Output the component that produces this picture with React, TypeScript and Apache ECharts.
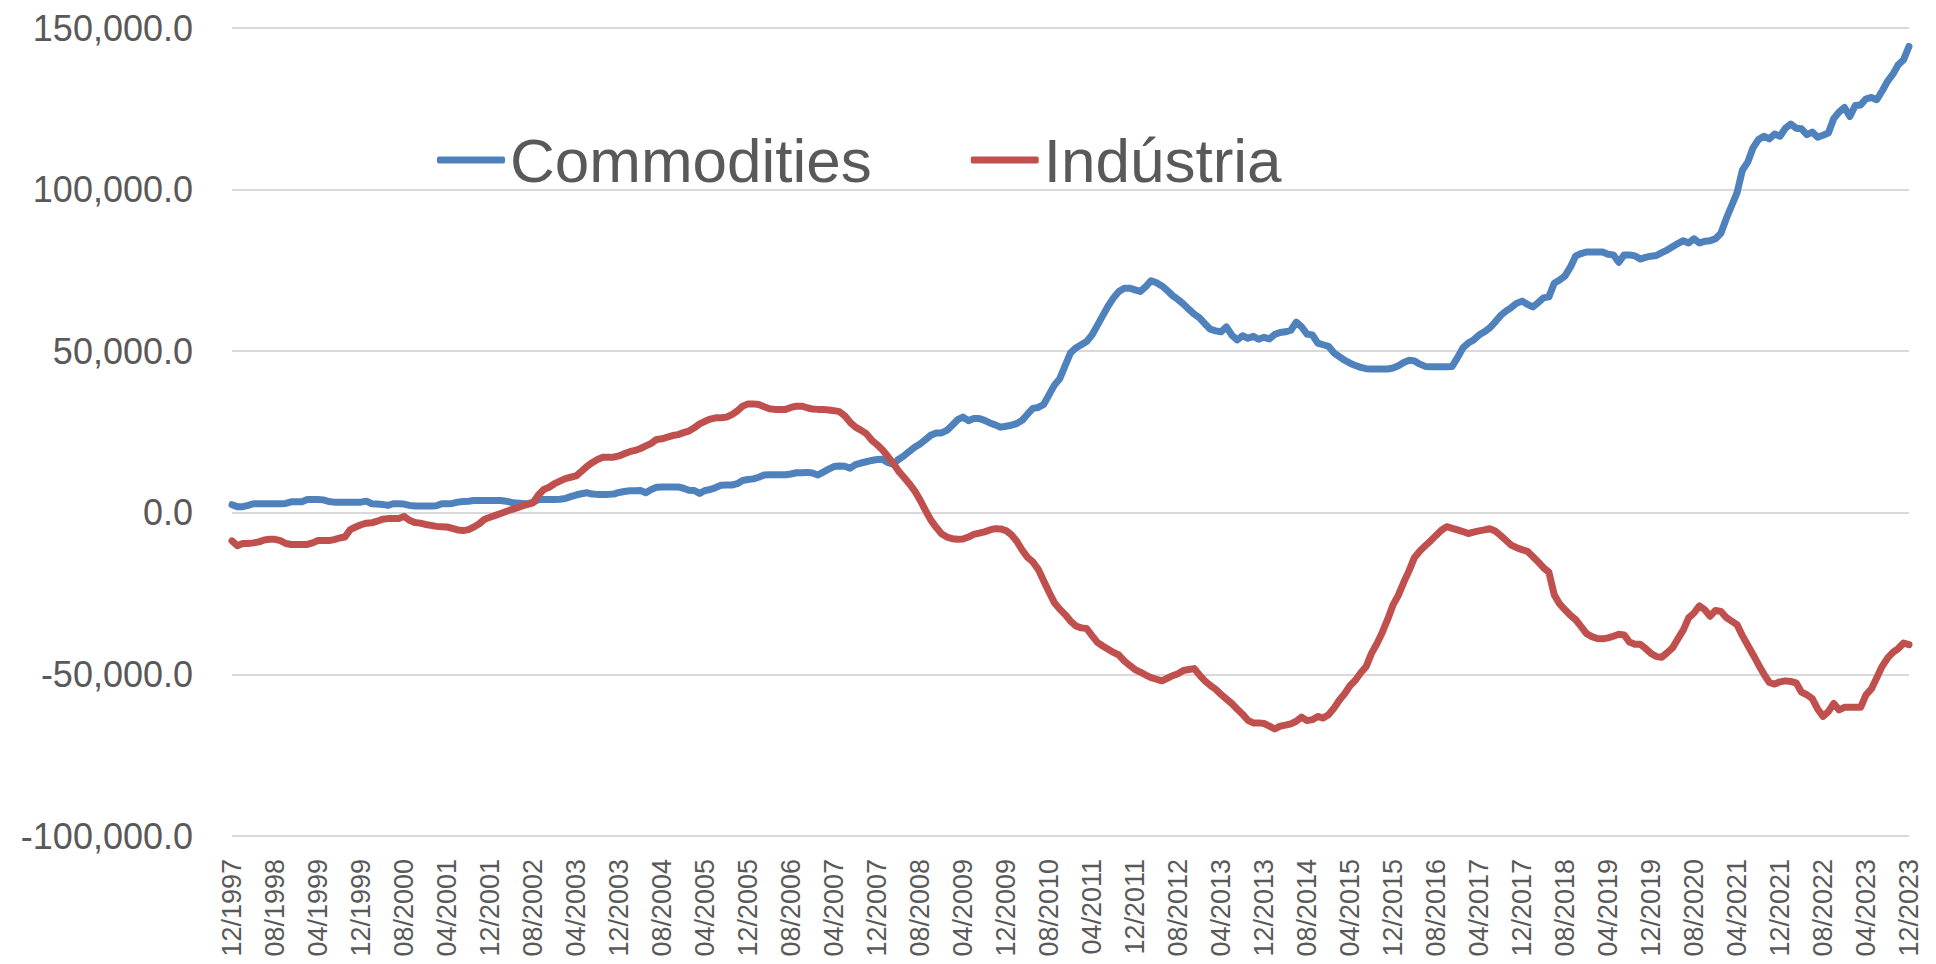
import React, { useEffect, useRef } from "react";
import * as echarts from "echarts";

// Monthly categories 12/1997 .. 12/2023
const categories: string[] = [];
for (let y = 1997, m = 12; y < 2024 || (y === 2024 && m < 1); ) {
  categories.push(String(m).padStart(2, "0") + "/" + y);
  if (y === 2023 && m === 12) break;
  m++;
  if (m > 12) { m = 1; y++; }
}

const seriesNames = ["Commodities", "Indústria"];

const commodities: number[] = [
  2500, 1900, 1900, 2300, 2800, 2800, 2800, 2800, 2800, 2800,
  2900, 3400, 3400, 3400, 4100, 4100, 4100, 4000, 3500, 3300,
  3300, 3300, 3300, 3300, 3300, 3600, 2800, 2700, 2600, 2300,
  2800, 2800, 2700, 2300, 2100, 2100, 2100, 2100, 2200, 2800,
  2800, 2900, 3300, 3500, 3600, 3800, 3800, 3800, 3800, 3800,
  3800, 3600, 3200, 3000, 2900, 2800, 3200, 4100, 4100, 4100,
  4100, 4200, 4400, 5000, 5500, 5900, 6200, 5800, 5700, 5700,
  5700, 5800, 6300, 6600, 6800, 6800, 6900, 6200, 7200, 7900,
  8000, 8000, 8000, 8000, 7600, 7000, 6900, 6000, 6900, 7200,
  7800, 8500, 8600, 8600, 9000, 10000, 10300, 10500, 11000, 11700,
  11800, 11800, 11800, 11800, 12000, 12400, 12400, 12500, 12300, 11700,
  12600, 13500, 14300, 14500, 14400, 13800, 14900, 15400, 15800, 16200,
  16500, 16600, 15600, 15000, 16500, 17600, 19000, 20300, 21300, 22600,
  24000, 24700, 24700, 25500, 27100, 28800, 29600, 28500, 29200, 29200,
  28600, 27800, 27200, 26500, 26800, 27100, 27600, 28600, 30500, 32300,
  32600, 33500, 36500, 39500, 41500, 45500, 49500, 51000, 52000, 53000,
  55000, 58000, 61000, 64000, 66500, 68500, 69500, 69500, 69000, 68500,
  70000, 71800, 71200, 70200, 68800, 67200, 66000, 64600, 63000, 61500,
  60300, 58500, 56800, 56300, 56000, 57500, 55000, 53500, 54800, 54000,
  54600, 53700, 54300, 53800, 55200, 55800, 56000, 56500, 59000, 57500,
  55300, 55000, 52500, 52000, 51500, 49500, 48300, 47200, 46300, 45600,
  45000, 44600, 44500, 44500, 44500, 44500, 44800, 45500, 46500, 47200,
  47000, 46000, 45300, 45200, 45200, 45200, 45200, 45300, 48000, 51000,
  52500, 53500, 55000, 56000, 57200, 59000, 61000, 62400, 63500, 64800,
  65500, 64500, 63700, 65000, 66500, 66800, 71000, 72000, 73300, 76000,
  79500, 80200, 80700, 80700, 80700, 80700, 80000, 79800, 77500, 79800,
  79800, 79500, 78500, 79000, 79400, 79600, 80500, 81300, 82300, 83300,
  84200, 83500, 84800, 83500, 84000, 84200, 84800, 86500, 91000, 95000,
  99000, 106000, 108500, 113000, 115500, 116500, 115700, 117200, 116500, 119000,
  120300, 119000, 118800, 117000, 117800, 116200, 116800, 117500, 122000, 124000,
  125400, 122600, 126000, 126200, 128100, 128500, 127800, 130500, 133500, 135700,
  138600, 140200, 144300,
];

const industria: number[] = [
  -8700, -10200, -9500, -9500, -9300, -9000, -8400, -8200, -8200, -8600,
  -9500, -9800, -9800, -9800, -9800, -9300, -8600, -8600, -8600, -8300,
  -7800, -7500, -5200, -4400, -3700, -3200, -3100, -2600, -2000, -1800,
  -1800, -1800, -1100, -2300, -3000, -3200, -3600, -3900, -4200, -4300,
  -4400, -4800, -5300, -5500, -5200, -4400, -3400, -2000, -1400, -800,
  -200, 400, 1000, 1500, 2100, 2600, 3100, 5500, 7200, 7900,
  9000, 9800, 10600, 11000, 11400, 12800, 14300, 15500, 16500, 17200,
  17200, 17200, 17600, 18300, 18900, 19300, 19900, 20700, 21500, 22700,
  22900, 23400, 23900, 24200, 24800, 25300, 26300, 27500, 28300, 29000,
  29400, 29400, 29600, 30400, 31500, 33000, 33700, 33700, 33500, 32800,
  32200, 32000, 32000, 32000, 32600, 33000, 33000, 32500, 32100, 32000,
  32000, 31800, 31600, 31300, 30000, 28000, 26500, 25600, 24500, 22500,
  21100, 19500, 17500, 15300, 12900, 11000, 9000, 6800, 4000, 800,
  -2200, -4500, -6500, -7500, -8000, -8200, -8100, -7500, -6700, -6300,
  -5900, -5300, -4900, -5000, -5500, -6800, -8800, -11500, -13800, -15200,
  -17500, -21000, -24500, -27800, -29800, -31500, -33500, -35000, -35600, -35800,
  -38000, -40100, -41200, -42200, -43200, -44000, -45800, -47200, -48500, -49300,
  -50200, -51000, -51500, -52000, -51200, -50400, -49800, -48800, -48500, -48200,
  -50200, -52000, -53400, -54600, -56200, -57600, -59000, -60700, -62300, -64200,
  -65000, -65000, -65200, -66000, -66900, -66000, -65700, -65300, -64500, -63200,
  -64300, -64000, -63000, -63500, -62500, -60500, -58000, -56000, -53500, -51800,
  -49500, -47600, -43500, -40500, -37000, -33000, -28500, -25500, -21500, -17900,
  -13800, -11800, -10200, -8700, -7000, -5400, -4300, -4800, -5300, -5800,
  -6400, -6000, -5600, -5300, -4900, -5600, -7000, -8500, -10000, -10800,
  -11400, -11900, -13500, -15200, -17000, -18400, -25400, -28200, -30000, -31700,
  -33100, -35200, -37400, -38300, -38900, -39000, -38700, -38200, -37600, -37800,
  -40000, -40700, -40700, -42000, -43500, -44500, -44700, -43300, -41800, -39000,
  -36300, -32500, -31000, -28800, -30000, -32000, -30200, -30500, -32400, -33500,
  -34600, -38000, -41000, -43900, -47000, -49900, -52500, -53000, -52300, -52000,
  -52200, -52600, -55500, -56300, -57500, -60700, -63000, -61500, -59000, -61000,
  -60200, -60200, -60200, -60200, -56300, -54500, -51000, -47500, -45000, -43200,
  -42000, -40300, -40800,
];

const yMin = -100000;
const yMax = 150000;
const yStep = 50000;

const FONT = "'Liberation Sans', Arial, sans-serif";
const TEXT = "#595959";

export default function App() {
  const ref = useRef<HTMLDivElement>(null);
  useEffect(() => {
    if (!ref.current) return;
    const chart = echarts.init(ref.current, null, { renderer: "svg" });
    chart.setOption({
      animation: false,
      backgroundColor: "#ffffff",
      textStyle: { fontFamily: FONT },
      grid: { left: 232, right: 27, top: 28, bottom: 128, containLabel: false },
      legend: {
        left: 432,
        top: 124,
        itemWidth: 68,
        itemHeight: 7,
        itemGap: 99,
        icon: "roundRect",
        textStyle: { fontFamily: FONT, fontSize: 62, color: TEXT },
        data: seriesNames,
      },
      xAxis: {
        type: "category",
        data: categories,
        boundaryGap: false,
        axisLine: { show: false },
        axisTick: { show: false },
        axisLabel: {
          interval: 7,
          rotate: 90,
          margin: 23,
          fontFamily: FONT,
          fontSize: 27,
          color: TEXT,
        },
        splitLine: { show: false },
      },
      yAxis: {
        type: "value",
        min: yMin,
        max: yMax,
        interval: yStep,
        axisLine: { show: false },
        axisTick: { show: false },
        axisLabel: {
          margin: 39,
          fontFamily: FONT,
          fontSize: 36,
          color: TEXT,
          formatter: (v: number) =>
            v.toLocaleString("en-US", { minimumFractionDigits: 1, maximumFractionDigits: 1 }),
        },
        splitLine: { lineStyle: { color: "#D9D9D9", width: 2 } },
      },
      series: [
        {
          name: seriesNames[0],
          type: "line",
          data: commodities,
          showSymbol: false,
          symbol: "none",
          lineStyle: { color: "#4F81BD", width: 7, cap: "round", join: "round" },
          itemStyle: { color: "#4F81BD" },
        },
        {
          name: seriesNames[1],
          type: "line",
          data: industria,
          showSymbol: false,
          symbol: "none",
          lineStyle: { color: "#C0504D", width: 7, cap: "round", join: "round" },
          itemStyle: { color: "#C0504D" },
        },
      ],
    });
    return () => chart.dispose();
  }, []);
  return (
    <div
      ref={ref}
      style={{ position: "fixed", left: 0, top: 0, width: 1936, height: 964, background: "#fff" }}
    />
  );
}
